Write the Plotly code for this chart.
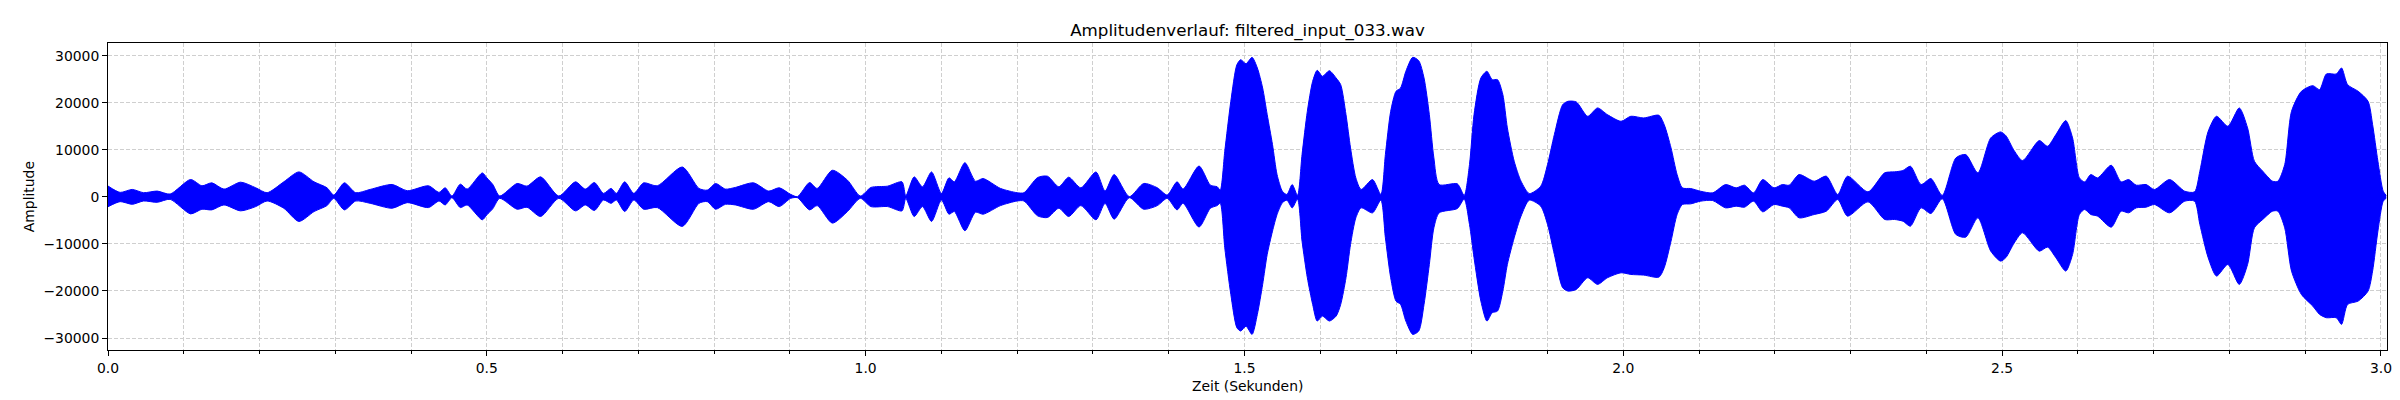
import plotly.graph_objects as go

# envelope of the waveform (time in s, amplitude)
times = [
    0.000, 0.016, 0.032, 0.047, 0.065, 0.082, 0.109, 0.124, 0.137, 0.153,
    0.175, 0.195, 0.210, 0.232, 0.252, 0.272, 0.289, 0.298, 0.312, 0.327,
    0.346, 0.375, 0.395, 0.423, 0.437, 0.445, 0.454, 0.465, 0.474, 0.494,
    0.500, 0.508, 0.517, 0.540, 0.553, 0.571, 0.595, 0.617, 0.630, 0.642,
    0.654, 0.664, 0.671, 0.682, 0.694, 0.707, 0.725, 0.758, 0.780, 0.791,
    0.802, 0.815, 0.828, 0.852, 0.872, 0.886, 0.901, 0.910, 0.926, 0.936,
    0.956, 0.976, 0.993, 1.007, 1.029, 1.048, 1.053, 1.064, 1.075, 1.087,
    1.100, 1.110, 1.117, 1.131, 1.145, 1.155, 1.178, 1.200, 1.209, 1.227,
    1.240, 1.255, 1.268, 1.284, 1.304, 1.316, 1.328, 1.348, 1.367, 1.385,
    1.398, 1.411, 1.419, 1.440, 1.455, 1.464, 1.468, 1.474, 1.482, 1.490,
    1.495, 1.502, 1.510, 1.517, 1.524, 1.530, 1.537, 1.543, 1.550, 1.556,
    1.563, 1.570, 1.576, 1.583, 1.590, 1.596, 1.603, 1.612, 1.621, 1.627,
    1.634, 1.640, 1.647, 1.654, 1.669, 1.680, 1.686, 1.693, 1.700, 1.706,
    1.713, 1.722, 1.730, 1.737, 1.744, 1.750, 1.757, 1.781, 1.790, 1.797,
    1.803, 1.812, 1.820, 1.827, 1.834, 1.841, 1.847, 1.856, 1.865, 1.876,
    1.891, 1.900, 1.909, 1.920, 1.927, 1.938, 1.953, 1.966, 1.979, 1.997,
    2.010, 2.027, 2.047, 2.054, 2.063, 2.071, 2.078, 2.089, 2.102, 2.118,
    2.135, 2.149, 2.160, 2.172, 2.184, 2.199, 2.210, 2.219, 2.232, 2.252,
    2.268, 2.283, 2.296, 2.323, 2.345, 2.358, 2.369, 2.379, 2.393, 2.406,
    2.421, 2.439, 2.452, 2.468, 2.485, 2.498, 2.505, 2.516, 2.527, 2.549,
    2.560, 2.571, 2.584, 2.593, 2.602, 2.609, 2.617, 2.626, 2.644, 2.657,
    2.667, 2.677, 2.690, 2.701, 2.721, 2.741, 2.754, 2.761, 2.772, 2.783,
    2.798, 2.813, 2.824, 2.833, 2.844, 2.857, 2.864, 2.873, 2.882, 2.895,
    2.910, 2.919, 2.928, 2.941, 2.948, 2.956, 2.970, 2.983, 2.989, 2.996,
    3.003, 3.007,
]
upper = [
    2300, 950, 1580, 880, 1230, 600, 3690, 2350, 2980, 1650,
    3120, 1930, 880, 3190, 5300, 3190, 1930, 390, 2980, 880,
    1580, 2630, 1300, 2350, 950, 1930, 180, 2700, 1650, 5090,
    4040, 2600, 180, 2840, 2280, 4250, 180, 3190, 1650, 3050,
    740, 1790, 740, 3190, 740, 2980, 2350, 6350, 1790, 1440,
    2840, 1650, 2000, 2980, 1230, 1930, 530, 40, 3050, 1790,
    5650, 3550, 180, 2000, 2280, 3190, 180, 4250, 2140, 5300,
    740, 4040, 3190, 7270, 3330, 3900, 1790, 880, 880, 4110,
    4390, 2140, 4180, 1930, 5300, 1230, 4740, 40, 2840, 1930,
    390, 3190, 1650, 6560, 2490, 2140, 1440, 9700, 20320, 28090,
    29150, 28300, 29650, 27390, 23140, 17480, 11110, 4740, 1200, 500,
    2620, 300, 8990, 18190, 24560, 26890, 25620, 26820, 25260, 23850,
    17480, 10400, 4030, 1560, 3680, 500, 8990, 18190, 22430, 23140,
    26680, 29650, 28950, 25260, 17480, 8280, 2620, 2760, 300, 6860,
    17480, 25260, 26680, 24910, 24910, 21730, 14650, 7570, 3330, 700,
    2260, 6860, 13230, 19600, 20310, 20170, 17130, 18900, 17480, 16060,
    17130, 16770, 17340, 15360, 10400, 4740, 1910, 1770, 1200, 850,
    2620, 1910, 2480, 850, 3680, 1910, 2620, 2480, 4740, 3330,
    4390, 500, 4390, 1060, 5100, 5310, 5590, 6510, 2620, 3890,
    300, 8280, 8990, 5100, 12530, 13800, 13000, 9800, 7710, 11960,
    10760, 13230, 16210, 12530, 4030, 3180, 4740, 4030, 6720, 3180,
    3680, 2480, 2620, 1560, 3680, 1200, 1060, 5450, 13940, 17130,
    15000, 18900, 14650, 7570, 5450, 3330, 3330, 6860, 18190, 22430,
    23640, 22790, 26110, 26110, 27390, 23850, 22430, 20310, 15360, 7570,
    1200, 300,
]
lower = [
    -2100, -1020, -1580, -880, -1160, -530, -3620, -2630, -2770, -1720,
    -2980, -2070, -880, -2420, -5230, -3120, -1860, -320, -2770, -880,
    -1370, -2420, -1230, -2280, -880, -1720, -180, -2280, -1720, -4880,
    -3830, -2500, -320, -2630, -2210, -4180, -320, -2980, -1720, -2910,
    -670, -1370, -670, -3120, -670, -2630, -2280, -6280, -1370, -1020,
    -2630, -1580, -1720, -2630, -1020, -2070, -320, -180, -2770, -1860,
    -5580, -3120, -320, -2070, -2070, -2980, -320, -4180, -2070, -5230,
    -670, -3690, -3120, -7200, -3260, -3690, -1860, -880, -880, -4040,
    -4390, -2420, -4180, -1860, -4880, -1370, -4740, -180, -2630, -1860,
    -320, -2770, -1370, -6420, -2420, -1860, -1370, -10830, -20740, -27810,
    -28520, -27500, -29230, -24980, -18610, -12240, -7290, -3750, -1270, -700,
    -2340, -500, -9410, -17200, -22860, -26400, -25340, -26400, -25340, -22860,
    -17200, -10120, -4460, -2340, -3400, -700, -8700, -17200, -22150, -22860,
    -26400, -29230, -28520, -22860, -14370, -6580, -3400, -2480, -500, -5870,
    -12950, -22150, -26400, -24630, -24270, -20030, -14370, -8700, -4100, -700,
    -1980, -5870, -12240, -19320, -20030, -19670, -17200, -18610, -17200, -16140,
    -16490, -16630, -17060, -15070, -9410, -3750, -1630, -1490, -920, -780,
    -2340, -1980, -2190, -920, -3180, -1630, -1980, -2340, -4460, -3750,
    -3040, -570, -4100, -1060, -4810, -4810, -5170, -6230, -2340, -3540,
    -400, -8000, -8560, -4460, -11540, -13660, -12900, -9800, -7640, -11540,
    -10690, -12950, -15780, -12240, -3750, -2690, -3750, -4100, -6440, -3040,
    -3400, -2340, -2190, -1630, -3400, -920, -920, -5870, -12950, -16840,
    -14370, -18610, -14370, -6580, -4810, -3040, -3040, -6580, -15780, -20740,
    -23210, -24980, -25690, -25690, -27100, -22860, -22150, -20030, -15780, -7290,
    -920, -300,
]

y_ticks = [-30000, -20000, -10000, 0, 10000, 20000, 30000]

font = "DejaVu Sans"
blue = "#0000ff"
grid = dict(showgrid=True, gridcolor="#cfcfcf", gridwidth=1, griddash="4px,2px")

W, H = 2400, 400
ml, mr, mt, mb = 100, 21, 35, 58
plot_w = W - ml - mr
plot_h = H - mt - mb

fig = go.Figure()
fig.add_trace(go.Scatter(
    x=times, y=lower, mode="lines",
    line=dict(color=blue, width=1, shape="spline", smoothing=0.7),
    hoverinfo="skip", showlegend=False,
))
fig.add_trace(go.Scatter(
    x=times, y=upper, mode="lines", fill="tonexty", fillcolor=blue,
    line=dict(color=blue, width=1, shape="spline", smoothing=0.7),
    hoverinfo="skip", showlegend=False,
))

fig.update_layout(
    width=W, height=H,
    margin=dict(l=ml, r=mr, t=mt, b=mb),
    paper_bgcolor="white", plot_bgcolor="white",
    font=dict(family=font, size=13.9, color="black"),
    title=dict(
        text="Amplitudenverlauf: filtered_input_033.wav",
        x=0.5, xref="paper", xanchor="center",
        y=1 - 21.7 / H, yref="container", yanchor="middle",
        font=dict(size=16.7, family=font, color="black"),
    ),
    annotations=[
        # axis titles placed where matplotlib put them
        dict(text="Zeit (Sekunden)", xref="paper", yref="paper",
             x=0.5, y=-(378 - (H - mb)) / plot_h,
             xanchor="center", yanchor="middle", showarrow=False,
             font=dict(size=13.9, family=font, color="black")),
        dict(text="Amplitude", xref="paper", yref="paper",
             x=(20.7 - ml) / plot_w, y=0.5, textangle=-90,
             xanchor="center", yanchor="middle", showarrow=False,
             font=dict(size=13.9, family=font, color="black")),
    ],
)
fig.update_xaxes(
    range=[0, 3.008], tick0=0, dtick=0.5, tickformat=".1f",
    ticks="outside", ticklen=4.9, tickwidth=1.1, tickcolor="black",
    showline=True, linecolor="black", linewidth=1.1, mirror=True,
    zeroline=False,
    minor=dict(dtick=0.1, ticks="outside", ticklen=2.8, tickwidth=0.8,
               tickcolor="black", **grid),
    **grid,
)
fig.update_yaxes(
    range=[-32550, 32700], tickvals=y_ticks, tickformat="d",
    ticks="outside", ticklen=4.9, tickwidth=1.1, tickcolor="black",
    showline=True, linecolor="black", linewidth=1.1, mirror=True,
    zeroline=False,
    **grid,
)

fig.write_html("out.html")
